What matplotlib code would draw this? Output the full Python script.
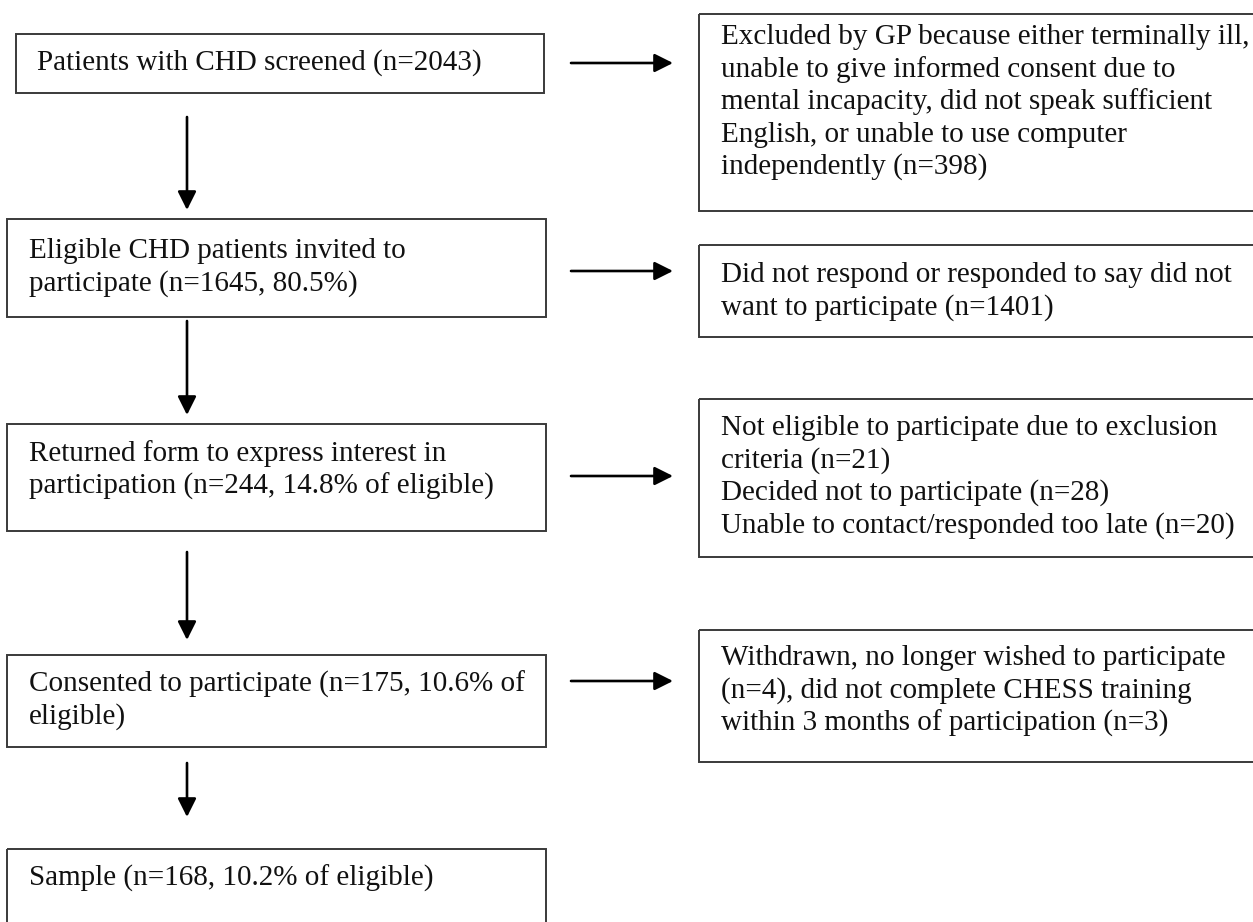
import matplotlib.pyplot as plt
from matplotlib.patches import Rectangle

# flow steps (left column) and exclusions (right column)
steps = [
    ["Patients with CHD screened (n=2043)"],
    ["Eligible CHD patients invited to",
     "participate (n=1645, 80.5%)"],
    ["Returned form to express interest in",
     "participation (n=244, 14.8% of eligible)"],
    ["Consented to participate (n=175, 10.6% of",
     "eligible)"],
    ["Sample (n=168, 10.2% of eligible)"],
]
exclusions = [
    ["Excluded by GP because either terminally ill,",
     "unable to give informed consent due to",
     "mental incapacity, did not speak sufficient",
     "English, or unable to use computer",
     "independently (n=398)"],
    ["Did not respond or responded to say did not",
     "want to participate (n=1401)"],
    ["Not eligible to participate due to exclusion",
     "criteria (n=21)",
     "Decided not to participate (n=28)",
     "Unable to contact/responded too late (n=20)"],
    ["Withdrawn, no longer wished to participate",
     "(n=4), did not complete CHESS training",
     "within 3 months of participation (n=3)"],
]

# layout in pixels (x0, y0, x1, y1), y measured from the top
step_boxes = [(16, 34, 544, 93), (7, 219, 546, 317), (7, 424, 546, 531),
              (7, 655, 546, 747), (7, 849, 546, 940)]
step_text_y = [63, 251, 454, 684, 878]
excl_boxes = [(699, 14, 1270, 211), (699, 245, 1270, 337),
              (699, 399, 1270, 557), (699, 630, 1270, 762)]
excl_text_y = [37, 275, 428, 658]
down_arrows = [(117, 210), (321, 415), (552, 640), (763, 817)]
side_arrow_y = [63, 271, 476, 681]

W, H = 1253, 922
fig = plt.figure(figsize=(W / 100, H / 100), dpi=100)
ax = fig.add_axes([0, 0, 1, 1])
ax.set_xlim(0, W)
ax.set_ylim(H, 0)
ax.axis('off')

font = dict(family='Liberation Serif', fontsize=21, color='#111111')
line_gap = 32.5
edge = '#3a3a3a'


def draw_box(box, lines, y_first, x_text):
    x0, y0, x1, y1 = box
    ax.add_patch(Rectangle((x0, y0), x1 - x0, y1 - y0, fill=False,
                           edgecolor=edge, lw=1.4))
    for i, line in enumerate(lines):
        ax.text(x_text, y_first + i * line_gap, line, va='center',
                ha='left', **font)


for i, lines in enumerate(steps):
    x_text = 37 if i == 0 else 29
    draw_box(step_boxes[i], lines, step_text_y[i], x_text)

for i, lines in enumerate(exclusions):
    draw_box(excl_boxes[i], lines, excl_text_y[i], 721)

arrow = dict(arrowstyle='-|>', lw=1.9, color='black', mutation_scale=28,
             shrinkA=0, shrinkB=0)
for y0, y1 in down_arrows:
    ax.annotate('', xy=(187, y1), xytext=(187, y0), arrowprops=arrow)
for y in side_arrow_y:
    ax.annotate('', xy=(673, y), xytext=(571, y), arrowprops=arrow)

fig.savefig('out.png', dpi=100)
